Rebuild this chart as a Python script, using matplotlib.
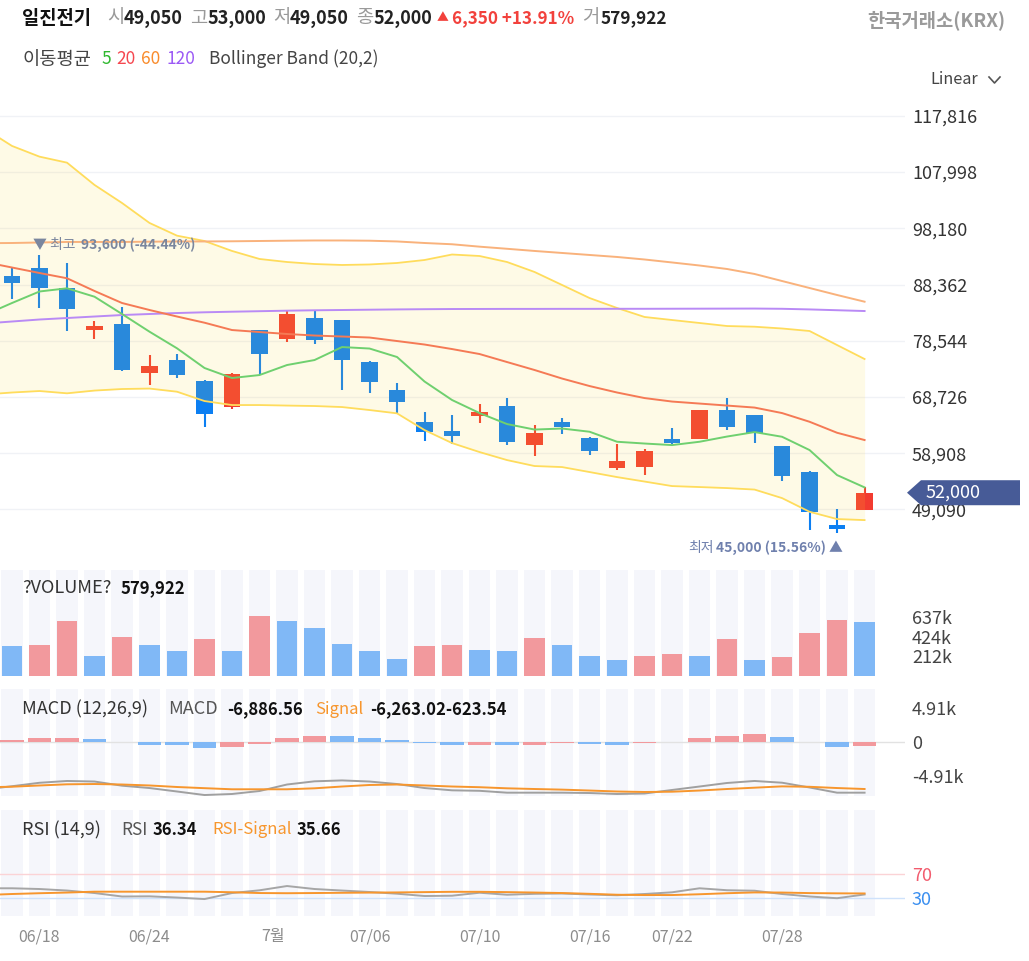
import matplotlib
matplotlib.use("Agg")
import matplotlib.pyplot as plt
import numpy as np
from matplotlib.lines import Line2D
from matplotlib.patches import Polygon
from matplotlib.transforms import blended_transform_factory

plt.rcParams['font.family'] = ['Noto Sans CJK KR', 'DejaVu Sans']

# ---- data ----
opens  = [89850, 91300, 87700, 80450, 81500, 72850, 75200, 71500, 66900, 80450,
          78800, 82500, 82100, 74900, 70000, 64300, 62750, 65340, 67100, 60420,
          64300, 61630, 56380, 56430, 61300, 61460, 66400, 65500, 60100, 55700,
          46300, 49050]
highs  = [91240, 93600, 92050, 82050, 84420, 75980, 76270, 71600, 72850, 80500,
          83730, 83730, 82150, 75050, 71120, 66140, 65520, 67420, 68570, 63890,
          65000, 61700, 60490, 59720, 63370, 66500, 68470, 65550, 60150, 55800,
          49140, 53000]
lows   = [85870, 84300, 80260, 78880, 73300, 70890, 72040, 63490, 66600, 72630,
          78280, 77990, 69900, 69440, 65860, 61060, 60480, 64240, 60320, 58460,
          62220, 58630, 55980, 55110, 60490, 61460, 62940, 60760, 54000, 45500,
          45000, 49050]
closes = [88640, 87700, 84100, 81150, 73400, 74200, 72500, 65800, 72800, 76200,
          83260, 78600, 75200, 71400, 67900, 62670, 61950, 66090, 60900, 62390,
          63500, 59320, 57540, 59270, 60600, 66490, 63500, 62500, 54900, 48600,
          45650, 52000]

# moving averages / bands start one session before the first visible candle
ma5   = [83030, 85130, 87140, 87700, 86230, 83210, 80120, 77220, 73780, 72030, 72550,
         74300, 75170, 77440, 77180, 75700, 71420, 68190, 65910, 63990, 63030,
         63210, 62650, 60900, 60590, 60320, 60900, 61810, 62590, 61770, 59450,
         55080, 52930]
ma20  = [92290, 91330, 90370, 89450, 87230, 85130, 83910, 82770, 81690, 80410, 80060,
         79720, 79450, 79280, 79100, 78490, 77880, 77090, 76220, 74820, 73430,
         71940, 70630, 69500, 68530, 67920, 67570, 67220, 66870, 65910, 64390,
         62470, 61200]
ma60  = [95580, 95610, 95700, 95790, 95790, 95790, 95840, 95880, 95880, 95910, 95960,
         96010, 96050, 96050, 96010, 95880, 95610, 95390, 94970, 94600, 94220,
         93870, 93520, 93170, 92730, 92210, 91680, 91070, 90200, 88970, 87750,
         86530, 85360]
ma120 = [81550, 81900, 82250, 82510, 82770, 83030, 83210, 83380, 83510, 83610, 83700,
         83790, 83860, 83910, 83960, 84010, 84050, 84080, 84090, 84100, 84100,
         84110, 84110, 84120, 84120, 84130, 84140, 84150, 84160, 84120, 84010,
         83870, 83730]
bb_upper = [115600, 112560, 110690, 109640, 105750, 102600, 99110, 96890, 95960, 94220,
            92820, 92290, 91940, 91770, 91860, 92120, 92640, 93600, 93340, 92290,
            90550, 88280, 86000, 84260, 82690, 82160, 81640, 81110, 80990, 80680,
            80240, 77790, 75350]
bb_lower = [69150, 69500, 69760, 69360, 69840, 70110, 70190, 69640, 68010, 67310,
            67310, 67220, 67140, 66960, 66440, 65860, 62940, 60670, 59100, 57700,
            56660, 56480, 55610, 54730, 53950, 53160, 52990, 52810, 52550, 51060,
            48670, 47400, 47220]

volume = [320e3, 338e3, 598e3, 222e3, 421e3, 338e3, 273e3, 403e3, 273e3, 645e3,
          598e3, 518e3, 352e3, 273e3, 186e3, 320e3, 338e3, 287e3, 273e3, 417e3,
          338e3, 222e3, 176e3, 222e3, 241e3, 222e3, 403e3, 176e3, 208e3, 468e3,
          612e3, 579922]

macd_hist = [200, 578, 600, 385, -20, -480, -500, -915, -720, -290, 580, 820, 800,
             580, 200, -240, -480, -460, -480, -430, -240, -260, -480, -240, -10,
             580, 820, 1060, 625, -20, -720, -623.54]
macd_line = [-6900, -6430, -5930, -5670, -5750, -6350, -6690, -7190, -7700, -7550,
             -7120, -6180, -5720, -5590, -5750, -6110, -6690, -7020, -7090, -7360,
             -7360, -7360, -7410, -7550, -7480, -6970, -6470, -5960, -5670, -5920,
             -6610, -7360, -7360]
macd_signal = [-6580, -6500, -6320, -6150, -6110, -6180, -6320, -6540, -6710, -6870,
               -6870, -6870, -6730, -6470, -6250, -6180, -6320, -6470, -6570, -6730,
               -6830, -6920, -7050, -7190, -7260, -7220, -7050, -6830, -6640, -6450,
               -6510, -6690, -6830]
rsi = [46.5, 46.5, 45.3, 42.8, 38.7, 33.0, 33.3, 31.3, 28.8, 38.7, 43.2, 50.2, 45.3,
       42.8, 40.4, 37.6, 33.8, 34.3, 39.2, 35.9, 37.4, 37.9, 36.3, 35.1, 37.1, 39.9,
       46.5, 43.3, 42.5, 37.1, 33.0, 30.2, 36.34]
rsi_signal = [35.4, 37.1, 38.4, 39.5, 40.9, 40.9, 40.9, 40.9, 40.9, 40.0, 38.7, 38.4,
              38.7, 39.1, 39.4, 39.7, 40.2, 40.7, 40.7, 40.2, 39.5, 38.7, 37.4, 35.9,
              35.4, 35.4, 36.7, 38.4, 39.7, 39.5, 38.6, 38.2, 38.0]

price_ticks = [49090, 58908, 68726, 78544, 88362, 98180, 107998, 117816]
date_pos = [1, 5, 9.5, 13, 17, 21, 24, 28]
date_labels = ['06/18', '06/24', '7월', '07/06', '07/10', '07/16', '07/22', '07/28']

# ---- layout helpers (pixel -> figure fraction) ----
W, H = 1029, 961
def fx(x):
    return x / W
def fy(y):
    return 1 - y / H

RED = '#f23b30'
BLUE = '#0c7ff2'
STRIPE = '#f5f6fb'
n = len(closes)
idx = np.arange(n)
lidx = np.arange(-1, n)
XL = (-0.436, 32.47)

fig = plt.figure(figsize=(W / 100, H / 100), dpi=100)
right = fx(905)
ax = fig.add_axes([0, fy(560), right, (560 - 92) / H])
axv = fig.add_axes([0, fy(676), right, (676 - 570) / H])
axm = fig.add_axes([0, fy(796), right, (796 - 689) / H])
axr = fig.add_axes([0, fy(916), right, (916 - 810) / H])

for a in (ax, axv, axm, axr):
    a.set_xlim(*XL)
    for s in a.spines.values():
        s.set_visible(False)
    a.yaxis.tick_right()
    a.tick_params(axis='both', length=0, labelsize=13, colors='#444444', pad=5)
    a.set_xticks([])

# ---- main price panel ----
ax.set_ylim(40250, 121980)
ax.set_yticks(price_ticks)
ax.set_yticklabels([f'{v:,}' for v in price_ticks])
ax.tick_params(axis='y', labelsize=13, colors='#333333')
ax.grid(axis='y', color='#f0f2f6', lw=1)
ax.set_axisbelow(True)

o = np.array(opens); c = np.array(closes)
up = c >= o
cols = [RED if u else BLUE for u in up]
ax.vlines(idx, lows, highs, colors=cols, lw=1.5, zorder=2)
body_lo = np.minimum(o, c)
body_h = np.maximum(np.abs(c - o), 350)
ax.bar(idx, body_h, bottom=body_lo, width=0.6, color=cols, zorder=2)

ax.fill_between(lidx, bb_lower, bb_upper, color='#fdd835', alpha=0.12, lw=0, zorder=2.5)
ax.plot(lidx, bb_upper, color='#ffdc5c', lw=1.3, zorder=3)
ax.plot(lidx, bb_lower, color='#ffdc5c', lw=1.3, zorder=3)
ax.plot(lidx, ma120, color='#b98af5', lw=1.4, zorder=3)
ax.plot(lidx, ma60, color='#f9b27c', lw=1.4, zorder=3)
ax.plot(lidx, ma20, color='#f57a55', lw=1.4, zorder=3)
ax.plot(lidx, ma5, color='#6fd06f', lw=1.4, zorder=3)

# high / low markers
hi_i = int(np.argmax(highs)); lo_i = int(np.argmin(lows))
ann = '#7a869e'
ax.annotate('▼ 최고', xy=(hi_i, highs[hi_i]), xytext=(-6, 10), textcoords='offset pixels',
            ha='left', va='center', fontsize=10, color=ann)
ax.annotate(f'{highs[hi_i]:,} (-44.44%)', xy=(hi_i, highs[hi_i]), xytext=(42, 10),
            textcoords='offset pixels', ha='left', va='center', fontsize=10,
            color=ann, fontweight='bold')
ax.annotate(f'{lows[lo_i]:,} (15.56%) ▲', xy=(lo_i, lows[lo_i]), xytext=(6, -15),
            textcoords='offset pixels', ha='right', va='center', fontsize=10,
            color='#6f80ad', fontweight='bold')
ax.annotate('최저', xy=(lo_i, lows[lo_i]), xytext=(-123, -15),
            textcoords='offset pixels', ha='right', va='center', fontsize=10,
            color='#6f80ad')

# current price tag
tr = blended_transform_factory(fig.transFigure, ax.transData)
ppx = 174.7
last = closes[-1]
tag = Polygon([(fx(907), last), (fx(921), last + 12.5 * ppx), (fx(1020), last + 12.5 * ppx),
               (fx(1020), last - 12.5 * ppx), (fx(921), last - 12.5 * ppx)],
              closed=True, transform=tr, fc='#475b97', ec='none', clip_on=False)
ax.add_patch(tag)
ax.text(fx(953), last, f'{last:,}', transform=tr, ha='center', va='center',
        color='white', fontsize=13)

# ---- volume panel ----
for a in (axv, axm, axr):
    for i in idx:
        a.axvspan(i - 0.39, i + 0.39, color=STRIPE, lw=0, zorder=0)

vol = np.array(volume)
vcols = ['#80b8f6'] + ['#f2999d' if vol[i] > vol[i - 1] else '#80b8f6' for i in range(1, n)]
axv.bar(idx, vol, width=0.75, color=vcols, zorder=2)
axv.set_ylim(0, 1149e3)
axv.set_yticks([212e3, 424e3, 637e3])
axv.set_yticklabels(['212k', '424k', '637k'])

# ---- MACD panel ----
hist = np.array(macd_hist)
hcols = ['#f2999d'] + ['#f2999d' if hist[i] > hist[i - 1] else '#80b8f6' for i in range(1, n)]
axm.axhline(0, color='#e2e2e2', lw=1, zorder=1)
axm.bar(idx, hist, width=0.85, color=hcols, zorder=2)
axm.plot(lidx, macd_line, color='#a0a0a0', lw=1.4, zorder=3)
axm.plot(lidx, macd_signal, color='#f7962d', lw=1.4, zorder=3)
axm.set_ylim(-7840, 7610)
axm.set_yticks([-4910, 0, 4910])
axm.set_yticklabels(['-4.91k', '0', '4.91k'])

# ---- RSI panel ----
axr.axhline(70, color='#fbd3d6', lw=1, zorder=1)
axr.axhline(30, color='#cfe2fb', lw=1, zorder=1)
axr.plot(lidx, rsi, color='#a6a6a6', lw=1.4, zorder=3)
axr.plot(lidx, rsi_signal, color='#f7962d', lw=1.4, zorder=3)
axr.set_ylim(1, 175)
axr.set_yticks([30, 70])
axr.set_yticklabels(['30', '70'])
for lab, colr in zip(axr.get_yticklabels(), ['#3b8ff0', '#f25c6e']):
    lab.set_color(colr)
axr.set_xticks(date_pos)
axr.set_xticklabels(date_labels)
axr.tick_params(axis='x', colors='#8c8c8c', labelsize=11.5, pad=9)

# ---- header texts ----
def t(x, y, s, color='#222222', size=13, weight='normal', ha='left'):
    fig.text(fx(x), fy(y), s, color=color, fontsize=size, fontweight=weight,
             ha=ha, va='center')

gray = '#9a9a9a'
t(22, 18, '일진전기', '#111111', 13.5, 'bold')
t(107, 18, '시', gray, 13.5); t(124, 18, '49,050', weight='bold')
t(190, 18, '고', gray, 13.5); t(207, 18, '53,000', weight='bold')
t(273, 18, '저', gray, 13.5); t(290, 18, '49,050', weight='bold')
t(356, 18, '종', gray, 13.5); t(373, 18, '52,000', weight='bold')
t(437, 18, '▲', '#f2413c', 8.5)
t(452, 18, '6,350 +13.91%', '#f2413c', 12.3, 'bold')
t(582, 18, '거', gray, 13.5); t(601, 18, '579,922', '#222222', 12.4, 'bold')
t(1005, 20, '한국거래소(KRX)', '#9a9a9a', 13.5, 'bold', 'right')

t(22, 59, '이동평균', '#444444', 13.5)
t(101, 59, '5', '#2fb82f', 12.5)
t(116, 59, '20', '#f5474f', 12.5)
t(141, 59, '60', '#f98b2b', 12.5)
t(167, 59, '120', '#9b59f5', 12.5)
t(209, 59, 'Bollinger Band (20,2)', '#444444', 12.5)

t(930, 80, 'Linear', '#444444', 11.7)
fig.add_artist(Line2D([fx(989), fx(994.5), fx(1000)], [fy(77), fy(83), fy(77)],
                      color='#555555', lw=1.2))

t(22, 588, '?VOLUME?', '#333333', 13)
t(121, 588, f'{volume[-1]:,.0f}', '#111111', 12, 'bold')

t(22, 709, 'MACD (12,26,9)', '#333333', 13)
t(168, 709, 'MACD', '#555555', 13)
t(227, 709, '-6,886.56', '#111111', 12, 'bold')
t(315, 709, 'Signal', '#f7962d', 12)
t(370, 709, '-6,263.02-623.54', '#111111', 12, 'bold')

t(22, 830, 'RSI (14,9)', '#333333', 13)
t(121, 830, 'RSI', '#555555', 12.5)
t(153, 830, '36.34', '#111111', 12, 'bold')
t(212, 830, 'RSI-Signal', '#f7962d', 12)
t(297, 830, '35.66', '#111111', 12, 'bold')

fig.savefig('out.png', dpi=100, facecolor='white')
